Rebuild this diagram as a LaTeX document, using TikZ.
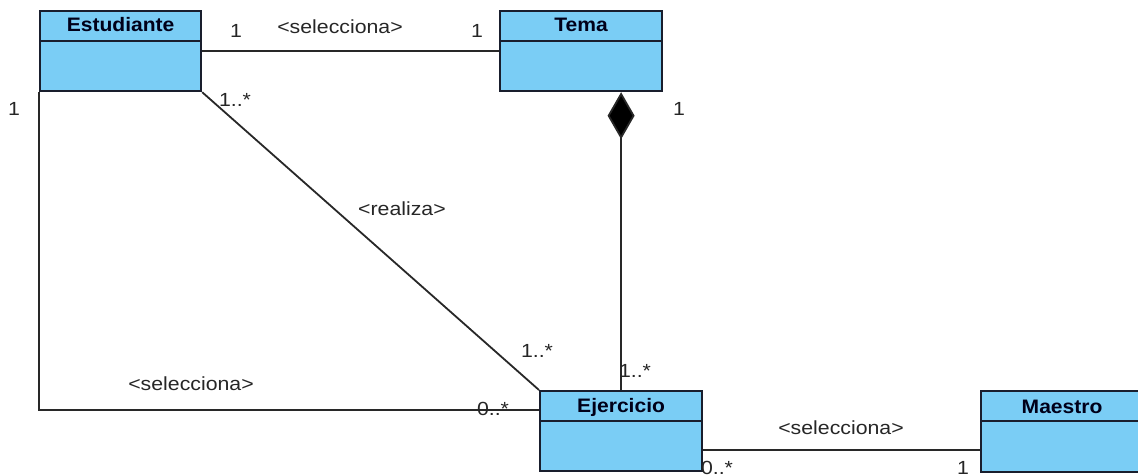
\documentclass[tikz,border=0pt]{standalone}
\usepackage{fontspec}
\setmainfont{Liberation Sans}
\usetikzlibrary{arrows.meta,calc}
\definecolor{clsfill}{RGB}{122,205,245}
\definecolor{clsline}{RGB}{25,30,45}
\definecolor{conn}{RGB}{40,40,40}
\tikzset{
  cls/.style={draw=clsline, fill=clsfill, line width=2.2pt, rectangle, inner sep=0pt, anchor=north west},
  ttl/.style={font=\fontsize{19.5}{21}\selectfont\bfseries, xscale=1.08, transform shape, inner sep=0pt, text=black!90!blue},
  lbl/.style={font=\fontsize{19}{21}\selectfont, xscale=1.12, transform shape, inner sep=0pt, text=black!85},
  link/.style={draw=conn, line width=1.8pt},
}
\begin{document}
\begin{tikzpicture}[x=1pt,y=-1pt]
\useasboundingbox (0,0) rectangle (1138,475);
% classes
\node[cls, minimum width=161, minimum height=80] (est) at (39,10) {};
\node[cls, minimum width=162, minimum height=80] (tema) at (499,10) {};
\node[cls, minimum width=162, minimum height=80] (ejer) at (539,390) {};
\node[cls, minimum width=162, minimum height=81] (mae) at (980,390) {};
\draw[clsline, line width=2.2pt] ([yshift=-31pt]est.north west) -- ([yshift=-31pt]est.north east);
\draw[clsline, line width=2.2pt] ([yshift=-31pt]tema.north west) -- ([yshift=-31pt]tema.north east);
\draw[clsline, line width=2.2pt] ([yshift=-31pt]ejer.north west) -- ([yshift=-31pt]ejer.north east);
\draw[clsline, line width=2.2pt] ([yshift=-31pt]mae.north west) -- ([yshift=-31pt]mae.north east);
\node[ttl] (testu) at ([yshift=-15pt]est.north) {Estudiante};
\node[ttl] (ttema) at ([yshift=-15pt]tema.north) {Tema};
\node[ttl] (tejer) at ([yshift=-17pt]ejer.north) {Ejercicio};
\node[ttl] (tmae) at ([yshift=-17pt]mae.north) {Maestro};
% connectors
\draw[link] (est.east) -- (tema.west);
\draw[link] (est.south east) -- (ejer.north west);
\coordinate (ejl) at ([yshift=-20pt]ejer.north west);
\draw[link] (est.south west) |- (ejl);
\coordinate (dtop) at (tema.south -| ejer.north);
\draw[link, {Diamond[length=47pt,width=27pt,fill=black]}-] (dtop) -- (ejer.north);
\draw[link] ([yshift=-19pt]ejer.east) -- ([yshift=-19pt]ejer.east -| mae.west);
% labels
\node[lbl] (l1) at (236,31) {1};
\node[lbl] (l2) at (340,27) {<selecciona>};
\node[lbl] (l3) at (477,31) {1};
\node[lbl] (l4) at (235,100) {1..*};
\node[lbl] (l5) at (14,109) {1};
\node[lbl] (l6) at (679,109) {1};
\node[lbl] (l7) at (402,209) {<realiza>};
\node[lbl] (l8) at (537,351) {1..*};
\node[lbl] (l9) at (635,371) {1..*};
\node[lbl] (l10) at (191,384) {<selecciona>};
\node[lbl] (l11) at (493,409) {0..*};
\node[lbl] (l12) at (841,428) {<selecciona>};
\node[lbl] (l13) at (717,468) {0..*};
\node[lbl] (l14) at (963,468) {1};
\end{tikzpicture}
\end{document}
